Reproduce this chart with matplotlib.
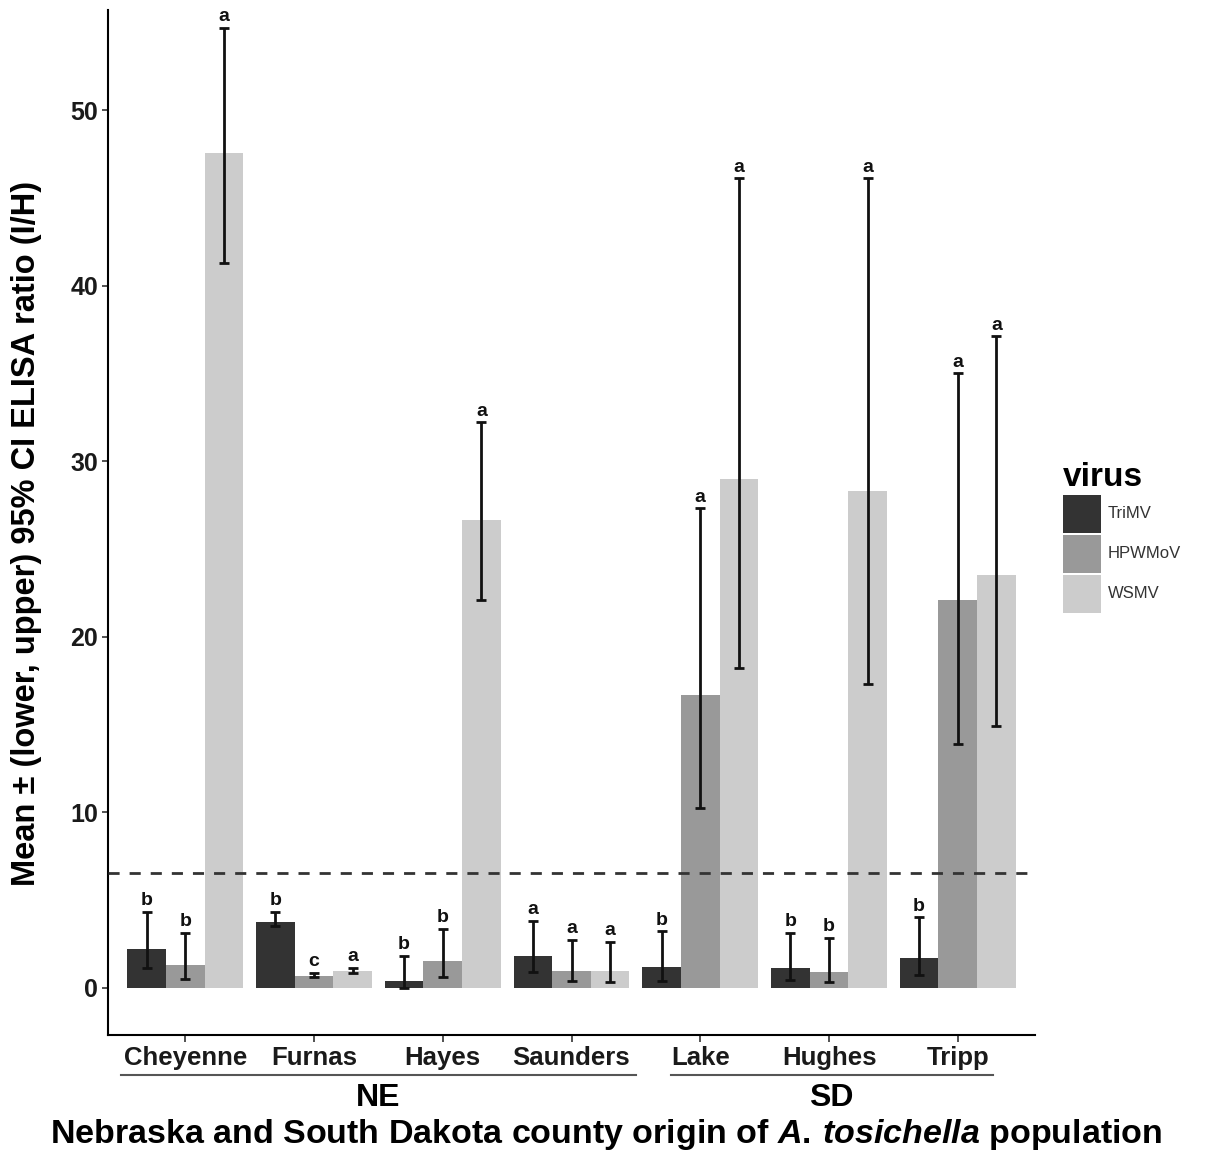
import matplotlib
matplotlib.use("Agg")
import matplotlib.pyplot as plt
import numpy as np
from matplotlib.patches import Patch
from matplotlib.transforms import blended_transform_factory

plt.rcParams["font.family"] = ["Liberation Sans", "DejaVu Sans"]
plt.rcParams["mathtext.fontset"] = "custom"
plt.rcParams["mathtext.it"] = "Liberation Sans:italic:bold"
plt.rcParams["mathtext.rm"] = "Liberation Sans:bold"

counties = ["Cheyenne", "Furnas", "Hayes", "Saunders", "Lake", "Hughes", "Tripp"]
states = ["NE", "SD"]
viruses = ["TriMV", "HPWMoV", "WSMV"]

trimv_mean = [2.2, 3.76, 0.4, 1.82, 1.2, 1.12, 1.7]
trimv_lower = [1.1, 3.5, 0.0, 0.9, 0.4, 0.45, 0.74]
trimv_upper = [4.3, 4.3, 1.82, 3.8, 3.2, 3.1, 4.0]
trimv_letters = ["b", "b", "b", "a", "b", "b", "b"]

hpwmov_mean = [1.3, 0.68, 1.5, 0.97, 16.7, 0.9, 22.1]
hpwmov_lower = [0.5, 0.63, 0.63, 0.4, 10.25, 0.34, 13.9]
hpwmov_upper = [3.1, 0.85, 3.35, 2.73, 27.3, 2.85, 35.0]
hpwmov_letters = ["b", "c", "b", "a", "a", "b", "a"]

wsmv_mean = [47.55, 0.97, 26.65, 0.97, 29.0, 28.3, 23.5]
wsmv_lower = [41.3, 0.85, 22.1, 0.34, 18.2, 17.3, 14.9]
wsmv_upper = [54.7, 1.14, 32.2, 2.62, 46.1, 46.1, 37.1]
wsmv_letters = ["a", "a", "a", "a", "a", "a", "a"]

threshold = 6.55

colors = ["#333333", "#999999", "#cccccc"]

series = [
    (trimv_mean, trimv_lower, trimv_upper, trimv_letters),
    (hpwmov_mean, hpwmov_lower, hpwmov_upper, hpwmov_letters),
    (wsmv_mean, wsmv_lower, wsmv_upper, wsmv_letters),
]

fig = plt.figure(figsize=(12.12, 11.54), dpi=100)
ax = fig.add_axes([108 / 1212, 1 - 1035 / 1154, (1035 - 108) / 1212, (1035 - 10) / 1154])

x = np.arange(1, len(counties) + 1)
width = 0.3
for k, (mean, lo, hi, letters) in enumerate(series):
    xpos = x + (k - 1) * width
    mean = np.array(mean)
    ax.bar(xpos, mean, width=width, color=colors[k], edgecolor="none", zorder=2)
    yerr = np.vstack([mean - np.array(lo), np.array(hi) - mean])
    ax.errorbar(xpos, mean, yerr=yerr, fmt="none", ecolor="#111111",
                elinewidth=2, capsize=3.5, capthick=2, zorder=3)
    for xi, top, let in zip(xpos, hi, letters):
        ax.annotate(let, (xi, top), xytext=(0, 2), textcoords="offset points",
                    ha="center", va="bottom", fontsize=14, fontweight="bold",
                    color="#111111")

ax.axhline(threshold, color="#333333", lw=2, ls=(0, (4, 3.6)), zorder=4)

ax.set_xlim(0.4, 7.6)
ax.set_ylim(-2.7, 55.7)
ax.set_yticks([0, 10, 20, 30, 40, 50])
ax.set_xticks(x)
ax.set_xticklabels(counties)
ax.tick_params(axis="y", labelsize=18, colors="#333333", length=4, width=1.2, pad=3)
ax.tick_params(axis="x", labelsize=18.5, colors="#333333", length=5, width=1.2, pad=3)
for lab in ax.get_xticklabels() + ax.get_yticklabels():
    lab.set_fontweight("bold")
    lab.set_color("#1a1a1a")

ax.spines["top"].set_visible(False)
ax.spines["right"].set_visible(False)
ax.spines["left"].set_linewidth(1.5)
ax.spines["bottom"].set_linewidth(1.5)

ax.set_ylabel("Mean ± (lower, upper) 95% CI ELISA ratio (I/H)", fontsize=23.5,
              fontweight="bold")
ax.yaxis.set_label_coords(-0.071, 0.489)

# state grouping under the county labels
trans = blended_transform_factory(ax.transData, fig.transFigure)
state_spans = [(0.5, 4.5), (4.77, 7.27)]
for name, (x0, x1) in zip(states, state_spans):
    ax.plot([x0, x1], [1 - 1075 / 1154] * 2, color="#555555", lw=1.5,
            transform=trans, clip_on=False)
    ax.text((x0 + x1) / 2, 1 - 1098 / 1154, name, transform=trans, ha="center",
            va="center", fontsize=23, fontweight="bold")

fig.text(0.5, 1 - 1134 / 1154,
         r"Nebraska and South Dakota county origin of $\it{A.\,tosichella}$ population",
         ha="center", va="center", fontsize=24.5, fontweight="bold")

handles = [Patch(facecolor=c, edgecolor="none") for c in colors]
leg = fig.legend(handles, viruses, title="virus", loc="upper left",
                 bbox_to_anchor=(1051 / 1212, 1 - 450 / 1154), frameon=False,
                 fontsize=12, handlelength=2.3, handleheight=3.13,
                 labelspacing=0.12, handletextpad=0.4, borderpad=0.2)
leg.get_title().set_fontsize(24)
leg.get_title().set_fontweight("bold")
leg._legend_box.align = "left"
for t in leg.get_texts():
    t.set_color("#333333")

fig.savefig("out.png", dpi=100)
